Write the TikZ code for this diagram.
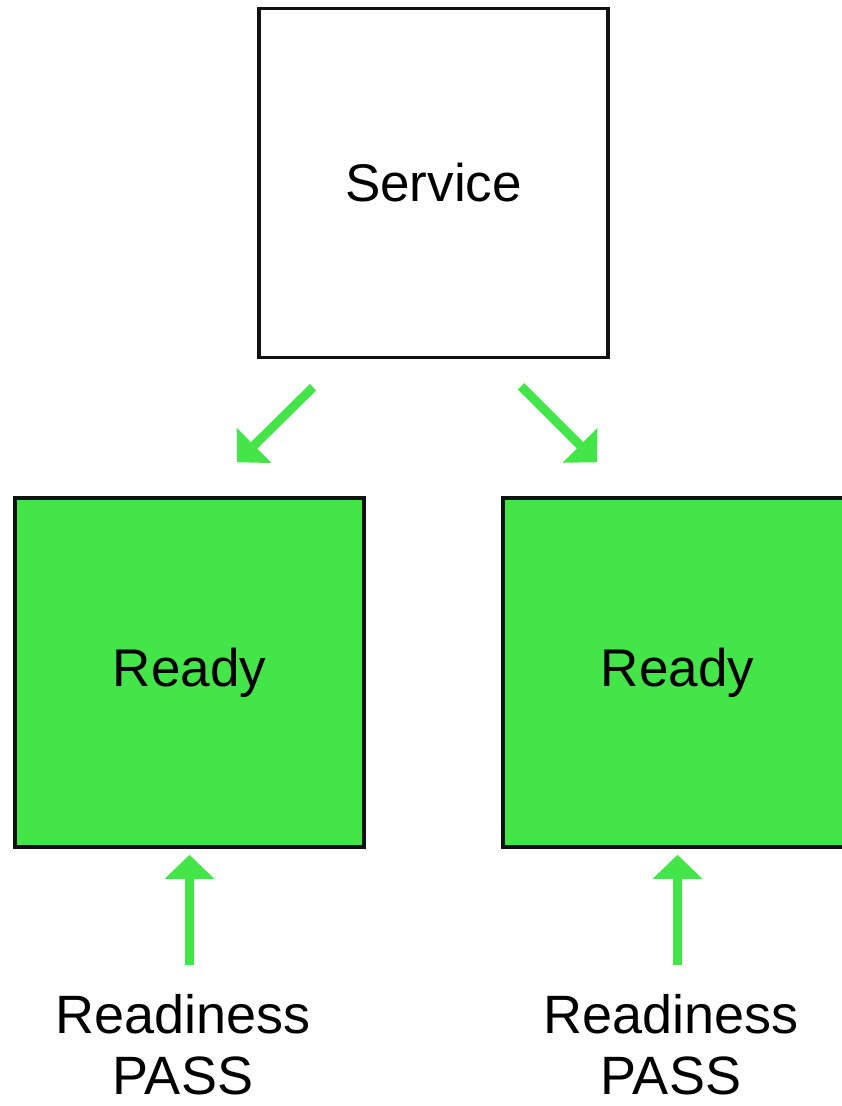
\documentclass[tikz,border=0pt]{standalone}
\usepackage{fontspec}
\setmainfont{Liberation Sans}
\usetikzlibrary{arrows.meta,positioning}
\definecolor{ReadyClr}{RGB}{67,229,72}
\definecolor{LineClr}{RGB}{17,17,17}

\begin{document}
\begin{tikzpicture}[x=1pt,y=-1pt,
  box/.style={draw=LineClr,line width=3.5pt,minimum width=349pt,minimum height=349pt,
    font=\fontsize{53pt}{64pt}\selectfont},
  readybox/.style={box,fill=ReadyClr},
  probe/.style={inner sep=0pt,align=center,anchor=north,font=\fontsize{54pt}{61pt}\selectfont},
  arr/.style={draw=ReadyClr,line width=9pt,-{Triangle[length=24pt,width=48pt]}}]
\useasboundingbox (0,0) rectangle (841,1106);

\node[box] (service) at (433.5,183) {Service};
\node[readybox] (readyL) at (189.5,672.5) {Ready};
\node[readybox] (readyR) at (677.5,672.5) {Ready};

\node[probe] (probeL) at (183,994) {Readiness\\PASS};
\node[probe] (probeR) at (671,994) {Readiness\\PASS};

\draw[arr] ([xshift=-120.5pt,yshift=-28pt]service.south) -- ([xshift=47.5pt,yshift=34pt]readyL.north);
\draw[arr] ([xshift=87.5pt,yshift=-27pt]service.south) -- ([xshift=-80.5pt,yshift=34pt]readyR.north);

\draw[arr,shorten <=29pt,shorten >=6pt] (probeL.north -| readyL.south) -- (readyL.south);
\draw[arr,shorten <=29pt,shorten >=6pt] (probeR.north -| readyR.south) -- (readyR.south);

\end{tikzpicture}
\end{document}
